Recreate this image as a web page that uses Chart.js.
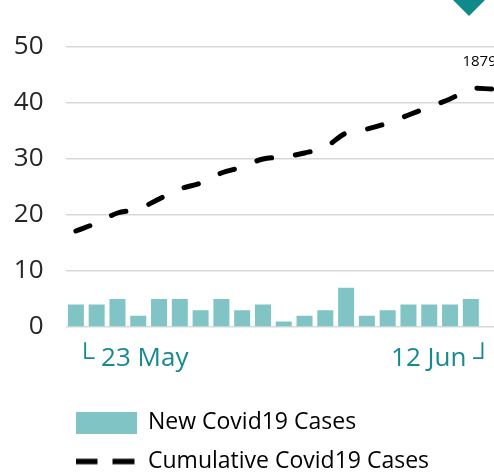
<!DOCTYPE html>
<html>
<head>
<meta charset="utf-8">
<script src="https://cdn.jsdelivr.net/npm/chart.js@4/dist/chart.umd.min.js"></script>
<style>
  html, body { margin: 0; padding: 0; background: #ffffff; overflow: hidden; width: 494px; height: 475px; }
  #wrap { position: absolute; left: 0; top: 0; width: 502px; height: 483px; }
  #marker { position: absolute; left: 453px; top: 0; width: 0; height: 0;
    border-left: 16px solid transparent; border-right: 16px solid transparent; border-top: 16px solid #10898b; }
</style>
</head>
<body>
<div id="wrap"><canvas id="chart"></canvas></div>
<div id="marker"></div>
<script>
// ---- data ----
const dates = ['└ 23 May','24 May','25 May','26 May','27 May','28 May','29 May','30 May','31 May',
  '1 Jun','2 Jun','3 Jun','4 Jun','5 Jun','6 Jun','7 Jun','8 Jun','9 Jun','10 Jun','11 Jun','12 Jun ┘'];
const newCases = [4,4,5,2,5,5,3,5,3,4,1,2,3,7,2,3,4,4,4,5,0];
const cumulativeCases = [1808,1812,1817,1819,1824,1829,1832,1837,1840,1844,1845,1847,1850,1857,1859,1862,1866,1870,1874,1879,1879];
const yTicks = [0,10,20,30,40,50];
const seriesNames = ['New Covid19 Cases','Cumulative Covid19 Cases'];

const TEAL_BAR = '#80c4c6';
const TEAL_TEXT = '#18898d';
const FONT = "'Open Sans', 'Noto Sans', sans-serif";

// legend symbols
function makeBoxSymbol() {
  const c = document.createElement('canvas');
  c.width = 61; c.height = 22;
  const g = c.getContext('2d');
  g.fillStyle = TEAL_BAR; g.fillRect(0, 0, 61, 22);
  return c;
}
function makeDashSymbol() {
  const c = document.createElement('canvas');
  c.width = 61; c.height = 22;
  const g = c.getContext('2d');
  g.strokeStyle = '#000'; g.lineWidth = 5.5; g.lineCap = 'butt';
  g.beginPath(); g.moveTo(0, 11); g.lineTo(22, 11); g.moveTo(37, 11); g.lineTo(59, 11); g.stroke();
  return c;
}
const boxSym = makeBoxSymbol();
const dashSym = makeDashSymbol();

const lastLabelPlugin = {
  id: 'lastLabel',
  afterDatasetsDraw(chart) {
    const meta = chart.getDatasetMeta(1);
    const pts = meta.data;
    const p = pts[pts.length - 1];
    const ctx = chart.ctx;
    ctx.save();
    ctx.font = '15px ' + FONT;
    ctx.fillStyle = '#000';
    ctx.textAlign = 'center';
    ctx.textBaseline = 'middle';
    ctx.fillText(String(cumulativeCases[cumulativeCases.length - 1]), p.x - 12, p.y - 27);
    ctx.restore();
  }
};

const legendShift = {
  id: 'legendShift',
  afterLayout(chart) {
    chart.legend.left = chart.chartArea.left - 6;
  }
};

new Chart(document.getElementById('chart'), {
  data: {
    labels: dates,
    datasets: [
      {
        type: 'bar',
        label: seriesNames[0],
        data: newCases,
        backgroundColor: TEAL_BAR,
        barPercentage: 0.77,
        categoryPercentage: 1.0,
        yAxisID: 'y',
        order: 2
      },
      {
        type: 'line',
        label: seriesNames[1],
        data: cumulativeCases,
        borderColor: '#000',
        borderWidth: 5,
        borderDash: [15, 24],
        borderCapStyle: 'round',
        tension: 0.35,
        pointRadius: 0,
        fill: false,
        yAxisID: 'y2',
        order: 1
      }
    ]
  },
  options: {
    responsive: true,
    maintainAspectRatio: false,
    animation: false,
    layout: { autoPadding: false, padding: { left: 14, top: 47, right: 0, bottom: 0 } },
    plugins: {
      tooltip: { enabled: false },
      legend: {
        position: 'bottom',
        align: 'start',
        labels: {
          usePointStyle: true,
          pointStyleWidth: 61,
          boxHeight: 22,
          padding: 16,
          color: '#000',
          font: { family: FONT, size: 23 },
          generateLabels() {
            return [
              { text: seriesNames[0], pointStyle: boxSym, fillStyle: TEAL_BAR, strokeStyle: TEAL_BAR, lineWidth: 0, hidden: false, datasetIndex: 0 },
              { text: seriesNames[1], pointStyle: dashSym, fillStyle: '#000', strokeStyle: '#000', lineWidth: 0, hidden: false, datasetIndex: 1 }
            ];
          }
        }
      }
    },
    scales: {
      x: {
        grid: { display: false, drawTicks: false },
        border: { display: false },
        ticks: {
          autoSkip: false,
          maxRotation: 0,
          minRotation: 0,
          align: 'inner',
          padding: 16,
          color: TEAL_TEXT,
          font: { family: FONT, size: 26 },
          callback(value, index) {
            return (index === 0 || index === dates.length - 1) ? dates[index] : '';
          }
        },
        afterFit(scale) { scale.height = 68; scale.paddingLeft = 0; scale.paddingRight = 0; }
      },
      y: {
        min: yTicks[0],
        max: yTicks[yTicks.length - 1],
        afterBuildTicks(scale) { scale.ticks = yTicks.map(v => ({ value: v })); },
        grid: { color: '#d9d9d9', lineWidth: 1.5, drawTicks: false },
        border: { display: false },
        ticks: {
          padding: 22,
          color: '#262626',
          font: { family: FONT, size: 26 }
        },
        afterFit(scale) { scale.width = 51.5; }
      },
      y2: {
        display: false,
        min: 1760,
        max: 1900
      }
    }
  },
  plugins: [lastLabelPlugin, legendShift]
});
</script>
</body>
</html>
